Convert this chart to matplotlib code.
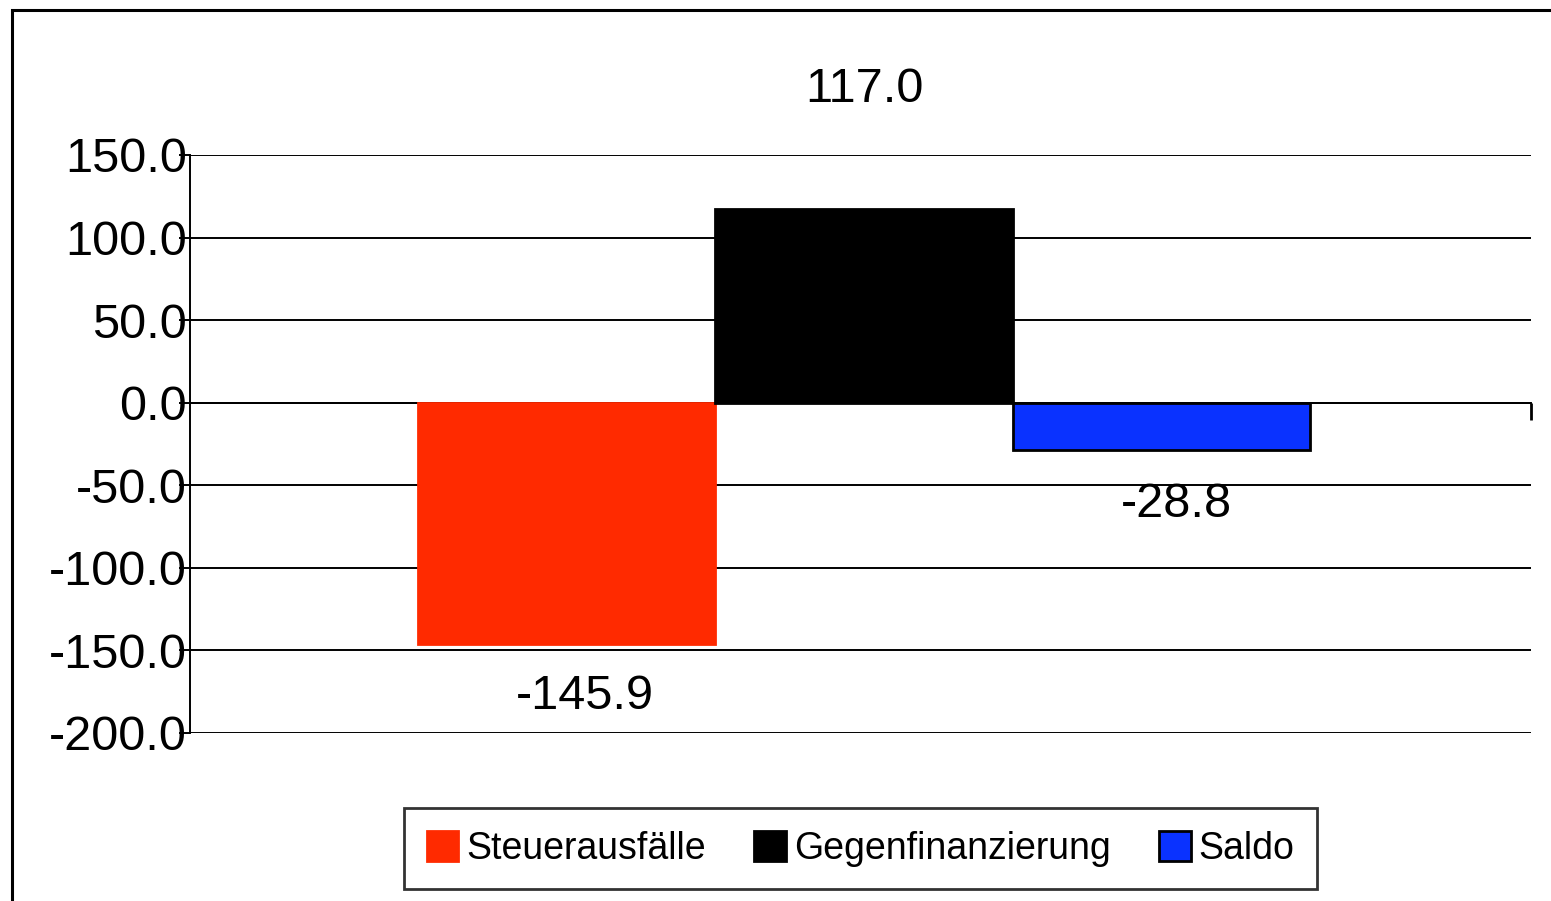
import matplotlib
matplotlib.use("Agg")
import matplotlib.pyplot as plt
from matplotlib.patches import Rectangle, Patch

# data
categories = ["Steuerausfälle", "Gegenfinanzierung", "Saldo"]
values = [-145.9, 117.0, -28.8]
bar_colors = ["#ff2a00", "#000000", "#0a32ff"]
edge_colors = ["#ff2a00", "#000000", "#000000"]
yticks = [150, 100, 50, 0, -50, -100, -150, -200]

plt.rcParams["font.family"] = ["Liberation Sans", "DejaVu Sans"]

fig = plt.figure(figsize=(15.51, 9.01), dpi=100)
ax = fig.add_axes([190 / 1551, 1 - 733 / 901, 1341 / 1551, 578 / 901])

xpos = list(range(len(values)))
ax.bar(xpos, values, width=1.0, color=bar_colors, edgecolor=edge_colors,
       linewidth=2, zorder=3)

# value labels (offsets in data units, picked by eye)
label_dy = [-32, 72.5, -33]
label_dx = [0.06, 0.0, 0.05]
for x, v, dy, dx in zip(xpos, values, label_dy, label_dx):
    ax.text(x + dx, v + dy, f"{v:.1f}", ha="center", va="center",
            fontsize=35, clip_on=False)

ax.set_ylim(-200, 150)
ax.set_xlim(-1.268, 3.244)
ax.set_yticks(yticks)
ax.set_yticklabels([f"{t:.1f}" for t in yticks])
ax.yaxis.grid(True, color="black", linewidth=1.4, zorder=0)
ax.set_axisbelow(True)
ax.tick_params(axis="y", labelsize=35, length=8, width=1.4, pad=-6,
               color="black")

# x axis sits at zero, only a small tick at the right end
ax.spines["bottom"].set_position(("data", 0))
ax.spines["bottom"].set_linewidth(1.4)
ax.set_xticks([3.244])
ax.set_xticklabels([""])
ax.tick_params(axis="x", direction="out", length=12, width=2)
ax.spines["top"].set_visible(False)
ax.spines["right"].set_visible(False)
ax.spines["left"].set_linewidth(1.4)

handles = [Patch(facecolor=c, edgecolor=e, linewidth=2) for c, e in zip(bar_colors, edge_colors)]
leg = ax.legend(handles, categories, loc="center", bbox_to_anchor=(0.5, -0.2),
                ncol=3, fontsize=27, frameon=True, fancybox=False,
                edgecolor="black", handlelength=0.85, handleheight=0.85,
                handletextpad=0.2, columnspacing=1.3, borderpad=0.6)
leg.get_frame().set_linewidth(2)

# outer frame of the picture (bottom and right cut off)
fig.patches.append(Rectangle((12 / 1551, -0.1), 1.2, 1.1 - 10 / 901,
                             transform=fig.transFigure, fill=False,
                             edgecolor="black", linewidth=2.2))

fig.savefig("out.png", dpi=100)
